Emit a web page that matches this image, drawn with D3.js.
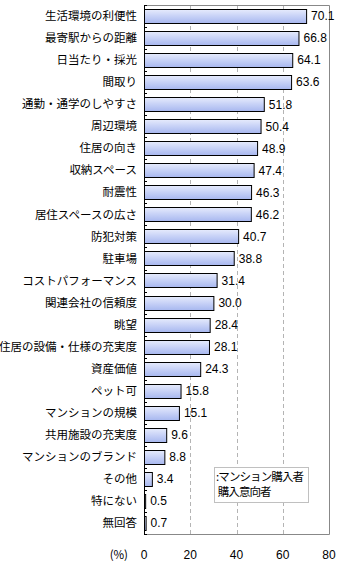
<!DOCTYPE html>
<html><head><meta charset="utf-8">
<script src="https://cdn.jsdelivr.net/npm/d3@7"></script>
<style>
html,body{margin:0;padding:0;background:#fff;}
svg{display:block;}
</style></head>
<body>
<svg id="chart" width="340" height="565"></svg>
<script>
const categories = ["生活環境の利便性","最寄駅からの距離","日当たり・採光","間取り","通勤・通学のしやすさ","周辺環境","住居の向き","収納スペース","耐震性","居住スペースの広さ","防犯対策","駐車場","コストパフォーマンス","関連会社の信頼度","眺望","住居の設備・仕様の充実度","資産価値","ペット可","マンションの規模","共用施設の充実度","マンションのブランド","その他","特にない","無回答"];
const values = [70.1,66.8,64.1,63.6,51.8,50.4,48.9,47.4,46.3,46.2,40.7,38.8,31.4,30.0,28.4,28.1,24.3,15.8,15.1,9.6,8.8,3.4,0.5,0.7];
const xTicks = [0,20,40,60,80];
const unitLabel = "(%)";
const legendLines = [":マンション購入者"," 購入意向者"];

(function(){
const svg = d3.select("#chart");
const jp = "'Noto Sans CJK JP','Noto Sans',sans-serif";
const pl = 144, pr = 329, pt = 5, pb = 534;

const x = d3.scaleLinear().domain([0,80]).range([pl,pr]);
const y = d3.scaleBand().domain(categories).range([pt,pb]).paddingInner(0.36).paddingOuter(0.18);

const defs = svg.append("defs");
const g = defs.append("linearGradient").attr("id","barg").attr("x1",0).attr("y1",0).attr("x2",0).attr("y2",1);
g.append("stop").attr("offset","0%").attr("stop-color","#e6ebfc");
g.append("stop").attr("offset","45%").attr("stop-color","#c9d3f7");
g.append("stop").attr("offset","100%").attr("stop-color","#a7b7ef");

// gridlines
svg.append("g").selectAll("line").data(xTicks.filter(d=>d>0 && d<80)).join("line")
  .attr("x1",d=>Math.round(x(d))+0.5).attr("x2",d=>Math.round(x(d))+0.5)
  .attr("y1",pt).attr("y2",pb)
  .attr("stroke","#b4b4b4").attr("stroke-dasharray","4,3");

// plot border (top, right, bottom)
svg.append("path").attr("d",`M${pl},${pt+0.5}H${pr+0.5}V${pb+0.5}H${pl}`)
  .attr("fill","none").attr("stroke","#888");

// bars
svg.append("g").selectAll("rect").data(values).join("rect")
  .attr("x",pl+0.5)
  .attr("y",(d,i)=>Math.round(y(categories[i]))+0.5)
  .attr("width",d=>Math.max(1,x(d)-pl))
  .attr("height",Math.round(y.bandwidth()))
  .attr("fill","url(#barg)").attr("stroke","#000").attr("stroke-width",1);

// value labels
svg.append("g").selectAll("text").data(values).join("text")
  .attr("x",d=>x(d)+5)
  .attr("y",(d,i)=>y(categories[i])+y.bandwidth()/2)
  .attr("dy","0.36em")
  .attr("font-family","'Liberation Sans',Arial,sans-serif").attr("font-size",12)
  .attr("fill","#000")
  .text(d=>d.toFixed(1));

// category labels
svg.append("g").selectAll("text").data(categories).join("text")
  .attr("x",137)
  .attr("y",d=>y(d)+y.bandwidth()/2)
  .attr("dy","0.36em")
  .attr("text-anchor","end")
  .attr("font-family",jp).attr("font-size",11.5)
  .attr("fill","#000")
  .text(d=>d);

// left axis
const step = y.step();
const bounds = d3.range(categories.length+1).map(k=>pt + k*step);
svg.append("line").attr("x1",pl+0.5).attr("x2",pl+0.5).attr("y1",pt).attr("y2",pb+1).attr("stroke","#000");
svg.append("g").selectAll("line").data(bounds).join("line")
  .attr("x1",pl).attr("x2",pl+3)
  .attr("y1",d=>Math.round(d)+0.5).attr("y2",d=>Math.round(d)+0.5)
  .attr("stroke","#000");

// x tick labels
svg.append("g").selectAll("text").data(xTicks).join("text")
  .attr("x",d=>x(d)).attr("y",559)
  .attr("text-anchor","middle")
  .attr("font-family","'Liberation Sans',Arial,sans-serif").attr("font-size",12)
  .text(d=>d);
svg.append("text").attr("x",128).attr("y",559).attr("text-anchor","end")
  .attr("font-family",jp).attr("font-size",11.5).text(unitLabel);

// legend
svg.append("rect").attr("x",214.5).attr("y",467.5).attr("width",94).attr("height",35)
  .attr("fill","#fff").attr("stroke","#c0c0c0");
svg.append("g").selectAll("text").data(legendLines).join("text")
  .attr("x",216).attr("y",(d,i)=>481+i*15)
  .attr("font-family",jp).attr("font-size",11.5).attr("letter-spacing",-0.9)
  .attr("xml:space","preserve").style("white-space","pre")
  .text(d=>d);
})();
</script>
</body></html>
